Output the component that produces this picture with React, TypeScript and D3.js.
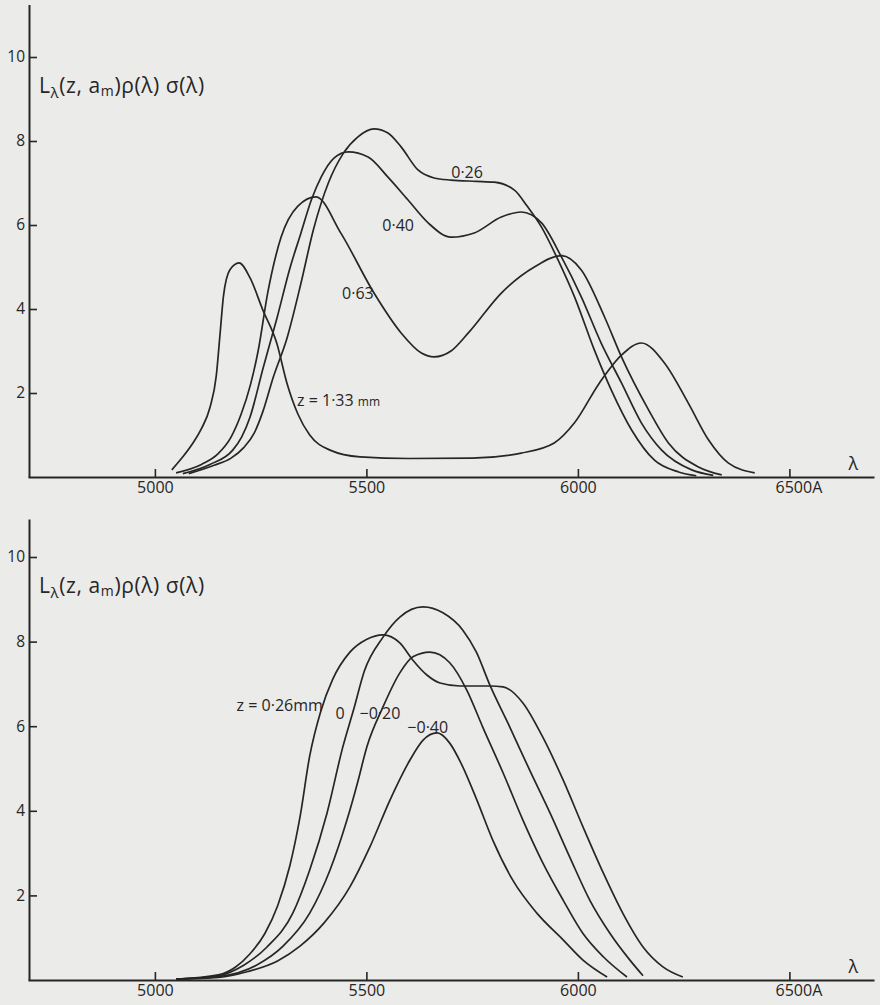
import React, { useEffect, useRef } from "react";
import * as d3 from "d3";

type Pt = [number, number]; // [wavelength (A), value]

// upper panel, curves for z (mm)
const top026: Pt[] = [
  [5080, 0.08], [5140, 0.28], [5180, 0.45], [5210, 0.7], [5235, 1.05], [5255, 1.55],
  [5280, 2.38], [5313, 3.33], [5345, 4.6], [5375, 5.9], [5410, 7.0], [5445, 7.7],
  [5480, 8.1], [5518, 8.29], [5551, 8.19], [5582, 7.86], [5622, 7.31], [5660, 7.12],
  [5700, 7.07], [5760, 7.04], [5802, 7.02], [5850, 6.83], [5880, 6.45], [5914, 5.95],
  [5953, 5.17], [5992, 4.29], [6039, 3.02], [6079, 2.07], [6127, 1.12], [6181, 0.4],
  [6238, 0.12], [6280, 0.03],
];
const top040: Pt[] = [
  [5066, 0.08], [5130, 0.3], [5184, 0.64], [5205, 0.95], [5225, 1.43], [5256, 2.6],
  [5289, 3.8], [5320, 5.0], [5345, 5.8], [5370, 6.6], [5393, 7.14], [5424, 7.6],
  [5457, 7.74], [5504, 7.62], [5551, 7.14], [5598, 6.6], [5646, 6.05], [5700, 5.71],
  [5755, 5.81], [5819, 6.19], [5866, 6.31], [5914, 6.05], [5961, 5.24], [6008, 4.29],
  [6055, 3.19], [6103, 2.24], [6150, 1.29], [6198, 0.64], [6269, 0.17], [6320, 0.04],
];
const top063: Pt[] = [
  [5050, 0.1], [5110, 0.3], [5149, 0.55], [5180, 0.95], [5204, 1.5], [5226, 2.2],
  [5244, 3.0], [5267, 4.4], [5298, 5.7], [5338, 6.45], [5381, 6.67], [5440, 5.8],
  [5518, 4.38], [5582, 3.43], [5630, 2.95], [5660, 2.86], [5700, 3.0], [5741, 3.43],
  [5819, 4.38], [5897, 5.0], [5961, 5.27], [6008, 4.93], [6063, 3.81], [6103, 2.86],
  [6167, 1.6], [6214, 0.81], [6285, 0.24], [6340, 0.05],
];
const top133: Pt[] = [
  [5040, 0.17], [5066, 0.48], [5090, 0.81], [5110, 1.15], [5130, 1.65], [5145, 2.4],
  [5154, 3.4], [5162, 4.3], [5177, 4.93], [5199, 5.1], [5225, 4.74], [5255, 3.98],
  [5288, 3.19], [5312, 2.24], [5338, 1.5], [5366, 1.0], [5414, 0.64], [5485, 0.48],
  [5600, 0.44], [5750, 0.45], [5866, 0.57], [5944, 0.81], [5992, 1.29], [6051, 2.24],
  [6103, 2.9], [6150, 3.19], [6205, 2.71], [6261, 1.76], [6309, 0.88], [6356, 0.33],
  [6418, 0.1],
];

// lower panel
const bot026: Pt[] = [
  [5050, 0.02], [5150, 0.12], [5190, 0.3], [5225, 0.62], [5260, 1.1], [5290, 1.75],
  [5319, 2.7], [5343, 3.85], [5366, 5.3], [5392, 6.35], [5420, 7.1], [5461, 7.75],
  [5500, 8.05], [5539, 8.16], [5579, 7.97], [5610, 7.56], [5643, 7.21], [5674, 7.02],
  [5721, 6.95], [5792, 6.95], [5823, 6.93], [5870, 6.55], [5917, 5.74], [5965, 4.73],
  [6012, 3.62], [6060, 2.53], [6106, 1.58], [6154, 0.78], [6201, 0.31], [6248, 0.07],
];
const bot000: Pt[] = [
  [5050, 0.02], [5150, 0.1], [5210, 0.35], [5265, 0.78], [5326, 1.58], [5366, 2.6],
  [5407, 3.95], [5444, 5.5], [5470, 6.4], [5495, 7.3], [5539, 8.1], [5579, 8.58],
  [5634, 8.82], [5681, 8.68], [5728, 8.27], [5760, 7.75], [5792, 6.97], [5839, 5.98],
  [5886, 4.96], [5934, 3.95], [5981, 2.9], [6028, 1.89], [6076, 1.1], [6123, 0.47],
  [6154, 0.1],
];
const botM020: Pt[] = [
  [5050, 0.02], [5150, 0.08], [5240, 0.35], [5303, 0.8], [5366, 1.58], [5414, 2.6],
  [5454, 3.78], [5480, 4.7], [5501, 5.51], [5539, 6.45], [5579, 7.26], [5610, 7.64],
  [5650, 7.75], [5697, 7.5], [5737, 6.86], [5775, 5.98], [5823, 4.9], [5870, 3.78],
  [5917, 2.77], [5965, 1.89], [6012, 1.1], [6060, 0.55], [6116, 0.07],
];
const botM040: Pt[] = [
  [5050, 0.02], [5150, 0.06], [5220, 0.2], [5290, 0.45], [5343, 0.8], [5400, 1.35],
  [5461, 2.2], [5508, 3.14], [5556, 4.26], [5603, 5.2], [5634, 5.67], [5667, 5.84],
  [5697, 5.6], [5725, 5.1], [5761, 4.26], [5799, 3.3], [5846, 2.36], [5903, 1.58],
  [5965, 0.95], [6012, 0.47], [6069, 0.07],
];

const xTicks = [5000, 5500, 6000, 6500];
const yTicks = [2, 4, 6, 8, 10];

// curve labels, anchored in data units
const topLabels = [
  { text: "0·26", at: [5738, 7.26], anchor: "middle" },
  { text: "0·40", at: [5575, 6.0], anchor: "middle" },
  { text: "0·63", at: [5480, 4.38], anchor: "middle" },
];
const botLabels = [
  { text: "z = 0·26mm", at: [5397, 6.48], anchor: "end" },
  { text: "0", at: [5438, 6.31], anchor: "middle" },
  { text: "−0·20", at: [5532, 6.3], anchor: "middle" },
  { text: "−0·40", at: [5645, 5.98], anchor: "middle" },
];

const INK = "#262626";
const FONT = "'Open Sans', 'DejaVu Sans', sans-serif";

const App = () => {
  const svgRef = useRef<SVGSVGElement>(null);

  useEffect(() => {
    const svg = d3.select(svgRef.current);
    svg.selectAll("*").remove();

    const width = 880;
    const height = 1005;

    svg
      .append("rect")
      .attr("width", width)
      .attr("height", height)
      .attr("fill", "#ebebe9");

    const x = d3.scaleLinear().domain([4700, 6700]).range([28, 874]);

    const panels = [
      {
        y: d3.scaleLinear().domain([0, 10]).range([477, 57]),
        axisTop: 11.25,
        series: [top026, top040, top063, top133],
        labels: topLabels,
        zLabel: true,
      },
      {
        y: d3.scaleLinear().domain([0, 10]).range([980, 557]),
        axisTop: 10.9,
        series: [bot026, bot000, botM020, botM040],
        labels: botLabels,
        zLabel: false,
      },
    ];

    panels.forEach((p) => {
      const g = svg.append("g");
      const y = p.y;

      // x axis
      const xAxis = g
        .append("g")
        .attr("transform", `translate(0,${y(0)})`)
        .call(
          d3
            .axisBottom(x)
            .tickValues(xTicks)
            .tickFormat((d) => (d === 6500 ? "6500A" : String(d)))
            .tickSizeInner(-8)
            .tickSizeOuter(0)
            .tickPadding(5)
        );
      xAxis.attr("font-family", FONT).attr("font-size", 16);
      xAxis.select(".domain").attr("stroke", INK).attr("stroke-width", 2);
      xAxis.selectAll(".tick line").attr("stroke", INK).attr("stroke-width", 1.6);
      xAxis.selectAll(".tick text").attr("fill", INK);
      xAxis
        .selectAll(".tick text")
        .filter((d) => d === 6500)
        .attr("dx", 9);

      // y axis
      const yAxisScale = y
        .copy()
        .domain([0, p.axisTop])
        .range([y(0), y(p.axisTop)]);
      const yAxis = g
        .append("g")
        .attr("transform", `translate(${x(4700) + 1},0)`)
        .call(
          d3
            .axisLeft(yAxisScale)
            .tickValues(yTicks)
            .tickSizeInner(-8)
            .tickSizeOuter(0)
            .tickPadding(4)
        );
      yAxis.attr("font-family", FONT).attr("font-size", 15.5);
      yAxis.select(".domain").attr("stroke", INK).attr("stroke-width", 2);
      yAxis.selectAll(".tick line").attr("stroke", INK).attr("stroke-width", 1.6);
      yAxis.selectAll(".tick text").attr("fill", INK);

      // lambda at end of x axis
      g.append("text")
        .attr("x", x(6640))
        .attr("y", y(0) - 7)
        .attr("font-family", FONT)
        .attr("font-size", 18)
        .attr("fill", INK)
        .text("λ");

      // y axis title
      const title = g
        .append("text")
        .attr("x", x(4700) + 11)
        .attr("y", y(9.15))
        .attr("font-family", FONT)
        .attr("font-size", 21)
        .attr("letter-spacing", 0.6)
        .attr("fill", INK);
      title.append("tspan").text("L");
      title.append("tspan").attr("font-size", 15).attr("dy", 5).text("λ");
      title.append("tspan").attr("dy", -5).text("(z, a");
      title.append("tspan").attr("font-size", 14).attr("dy", 3).text("m");
      title.append("tspan").attr("dy", -3).text(")ρ(λ) σ(λ)");

      // curves
      const line = d3
        .line<Pt>()
        .x((d) => x(d[0]))
        .y((d) => y(d[1]))
        .curve(d3.curveMonotoneX);

      g.selectAll(".curve")
        .data(p.series)
        .enter()
        .append("path")
        .attr("fill", "none")
        .attr("stroke", INK)
        .attr("stroke-width", 1.7)
        .attr("stroke-linejoin", "round")
        .attr("d", line);

      // curve labels
      g.selectAll(".lbl")
        .data(p.labels)
        .enter()
        .append("text")
        .attr("x", (d) => x(d.at[0]))
        .attr("y", (d) => y(d.at[1]))
        .attr("dy", "0.35em")
        .attr("text-anchor", (d) => d.anchor)
        .attr("font-family", FONT)
        .attr("font-size", 16)
        .attr("fill", INK)
        .text((d) => d.text);

      if (p.zLabel) {
        const zt = g
          .append("text")
          .attr("x", x(5336))
          .attr("y", y(1.83))
          .attr("dy", "0.35em")
          .attr("font-family", FONT)
          .attr("font-size", 16)
          .attr("fill", INK);
        zt.append("tspan").text("z = 1·33 ");
        zt.append("tspan").attr("font-size", 12).text("mm");
      }
    });
  }, []);

  return (
    <svg
      ref={svgRef}
      width={880}
      height={1005}
      style={{ position: "absolute", left: 0, top: 0, display: "block" }}
    />
  );
};

export default App;
